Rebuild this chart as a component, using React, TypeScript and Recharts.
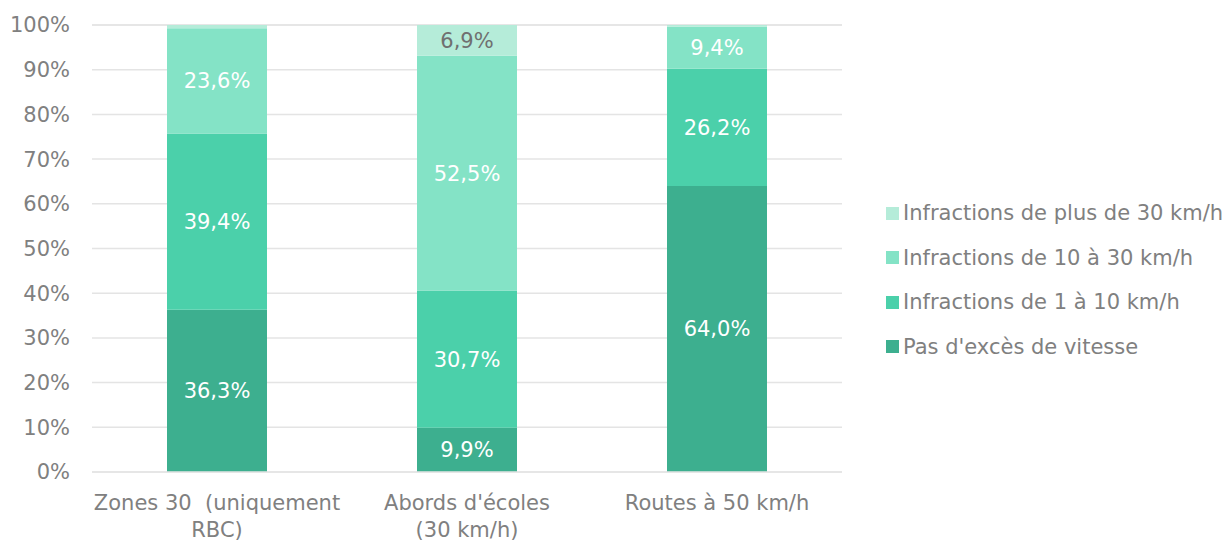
import React from "react";
import { BarChart, Bar, XAxis, YAxis, CartesianGrid, LabelList } from "recharts";

const categories = ["Zones 30  (uniquement|RBC)", "Abords d'écoles|(30 km/h)", "Routes à 50 km/h"];
const pasExces = [36.3, 9.9, 64.0];
const inf1a10 = [39.4, 30.7, 26.2];
const inf10a30 = [23.6, 52.5, 9.4];
const infPlus30 = [0.7, 6.9, 0.4];
const yTicks = [0, 10, 20, 30, 40, 50, 60, 70, 80, 90, 100];

const seriesNames = [
  "Pas d'excès de vitesse",
  "Infractions de 1 à 10 km/h",
  "Infractions de 10 à 30 km/h",
  "Infractions de plus de 30 km/h",
];
const seriesKeys = ["a", "b", "c", "d"];
const colors = ["#3daf8f", "#4bd0aa", "#84e3c6", "#b5ecd9"];
const labelColors = ["#ffffff", "#ffffff", "#ffffff", "#707070"];

const data = categories.map((c, i) => ({
  name: c,
  a: pasExces[i],
  b: inf1a10[i],
  c: inf10a30[i],
  d: infPlus30[i],
}));

const FONT = "'DejaVu Sans', sans-serif";
const FS = 21;

const XTick = (props: any) => {
  const { x, y, payload } = props;
  const lines = String(payload.value).split("|");
  return (
    <g>
      {lines.map((l, i) => (
        <text key={i} x={x} y={y + 30} dy={i * 27} textAnchor="middle" fill="#808080" fontSize={FS} fontFamily={FONT} style={{ whiteSpace: "pre" }}>
          {l}
        </text>
      ))}
    </g>
  );
};

const makeLabel = (color: string) => (props: any) => {
  const { x, y, width, height, value } = props;
  if (value == null || value < 1) return null;
  return (
    <text x={x + width / 2} y={y + height / 2} dy={7.5} textAnchor="middle" fill={color} fontSize={FS} fontFamily={FONT}>
      {value.toFixed(1).replace(".", ",") + "%"}
    </text>
  );
};

const LegendBlock = () => (
  <div style={{ position: "absolute", left: 886, top: 191, fontFamily: FONT, fontSize: FS, color: "#808080", whiteSpace: "nowrap" }}>
    {[3, 2, 1, 0].map((i) => (
      <div key={i} style={{ display: "flex", alignItems: "center", height: 44.5 }}>
        <span style={{ display: "inline-block", width: 13, height: 13, background: colors[i], marginRight: 4 }} />
        <span>{seriesNames[i]}</span>
      </div>
    ))}
  </div>
);

export default function App() {
  return (
    <div style={{ position: "absolute", left: 0, top: 0, width: 1232, height: 544, background: "#fff" }}>
      <BarChart width={1232} height={544} data={data} margin={{ top: 25, right: 390, bottom: 0, left: 0 }} barCategoryGap="30%">
        <CartesianGrid vertical={false} stroke="#e4e4e4" strokeWidth={1.5} />
        <XAxis dataKey="name" tickLine={false} axisLine={{ stroke: "#e4e4e4", strokeWidth: 1.5 }} height={72} tick={<XTick />} interval={0} />
        <YAxis
          domain={[0, 100]}
          ticks={yTicks}
          interval={0}
          tickFormatter={(v: number) => v + "%"}
          axisLine={false}
          tickLine={false}
          tickSize={0}
          tickMargin={22}
          width={92}
          tick={{ fill: "#808080", fontSize: FS, fontFamily: FONT }}
        />
        {seriesKeys.map((k, i) => (
          <Bar key={k} dataKey={k} stackId="s" fill={colors[i]} isAnimationActive={false} name={seriesNames[i]}>
            <LabelList dataKey={k} content={makeLabel(labelColors[i])} />
          </Bar>
        ))}
      </BarChart>
      <LegendBlock />
    </div>
  );
}
